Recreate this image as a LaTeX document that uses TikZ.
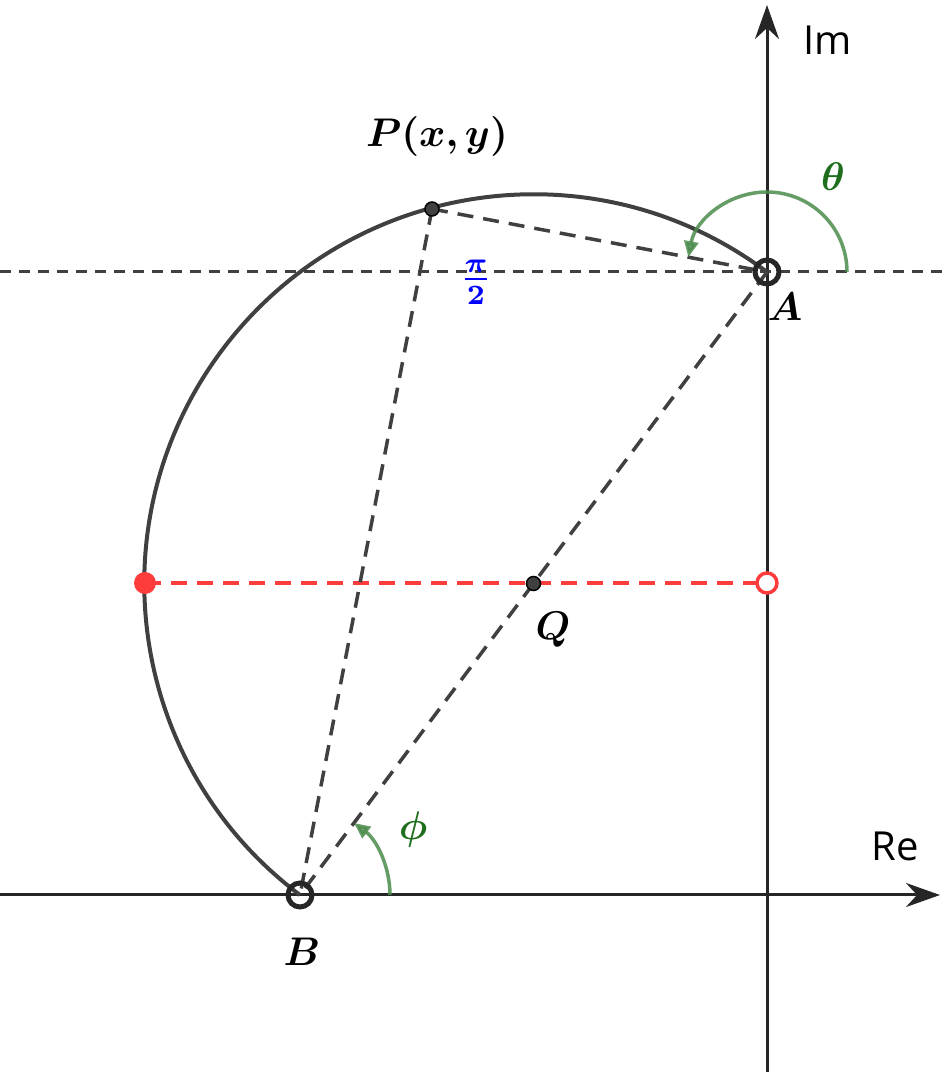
\documentclass[tikz,border=0pt]{standalone}
\usepackage{amsmath,bm}
\usepackage{fontspec}
\newfontfamily\lblfont{Open Sans}
\usetikzlibrary{arrows.meta,calc}
\definecolor{dk}{RGB}{64,64,64}
\definecolor{gr}{RGB}{30,110,30}
\definecolor{rd}{RGB}{255,60,60}
\tikzset{
 axis/.style={line width=3pt,draw=black!85,-{Stealth[length=34pt,width=24pt]}},
 dsh/.style={line width=3.5pt,draw=dk,dash pattern=on 16pt off 10pt},
 ang/.style={line width=3.5pt,draw=gr!80,opacity=0.85,-{Triangle[length=16pt,width=14pt]}},
 lbl/.style={scale=4},
}
\begin{document}
\begin{tikzpicture}[x=1pt,y=1pt]
\useasboundingbox (0,0) rectangle (944,1072);
\coordinate (A) at (767,800);
\coordinate (B) at (300,177);
\coordinate (Q) at (533.5,488.5);
\coordinate (P) at (432,863);
\coordinate (L) at (145,489);
\coordinate (R) at (767,489);
\draw[axis] (0,177) -- (940,177);
\draw[axis] (767,0) -- (767,1067);
\draw[line width=3pt,draw=dk,dash pattern=on 11pt off 8pt] (0,800) -- (944,800);
\draw[line width=3.5pt,draw=rd,dash pattern=on 16pt off 10pt] (L) -- (R);
\draw[line width=4pt,draw=dk] (B) arc[start angle=233.13,end angle=53.13,radius=389.3];
\draw[dsh] (A) -- (B);
\draw[dsh] (P) -- (B);
\draw[dsh] (P) -- (A);
\draw[ang] ($(A)+(80,0)$) arc[start angle=0,end angle=169.35,radius=80];
\draw[ang] ($(B)+(90,0)$) arc[start angle=0,end angle=53.13,radius=90];
\fill[rd] (L) circle (11);
\draw[line width=3.5pt,draw=rd,fill=white] (R) circle (10);
\draw[line width=5pt,draw=black!85] (A) circle (12);
\draw[line width=5pt,draw=black!85] (B) circle (12);
\draw[line width=1.5pt,fill=dk] (P) circle (7);
\draw[line width=1.5pt,fill=dk] (Q) circle (7);
\node[lbl] (Pl) at (437,935) {$\bm{P(x,y)}$};
\node[lbl,text=gr] (th) at (833,895) {$\bm{\theta}$};
\node[lbl,text=blue] (pi) at (476,790) {$\bm{\frac{\pi}{2}}$};
\node[lbl] (Al) at (785,765) {$\bm{A}$};
\node[lbl] (Bl) at (302,120) {$\bm{B}$};
\node[lbl] (Ql) at (553,442) {$\bm{Q}$};
\node[lbl,text=gr] (ph) at (413,242) {$\bm{\phi}$};
\node[font=\lblfont\fontsize{40}{48}\selectfont] (im) at (828,1032) {Im};
\node[font=\lblfont\fontsize{40}{48}\selectfont] (re) at (895,226) {Re};
\end{tikzpicture}
\end{document}
